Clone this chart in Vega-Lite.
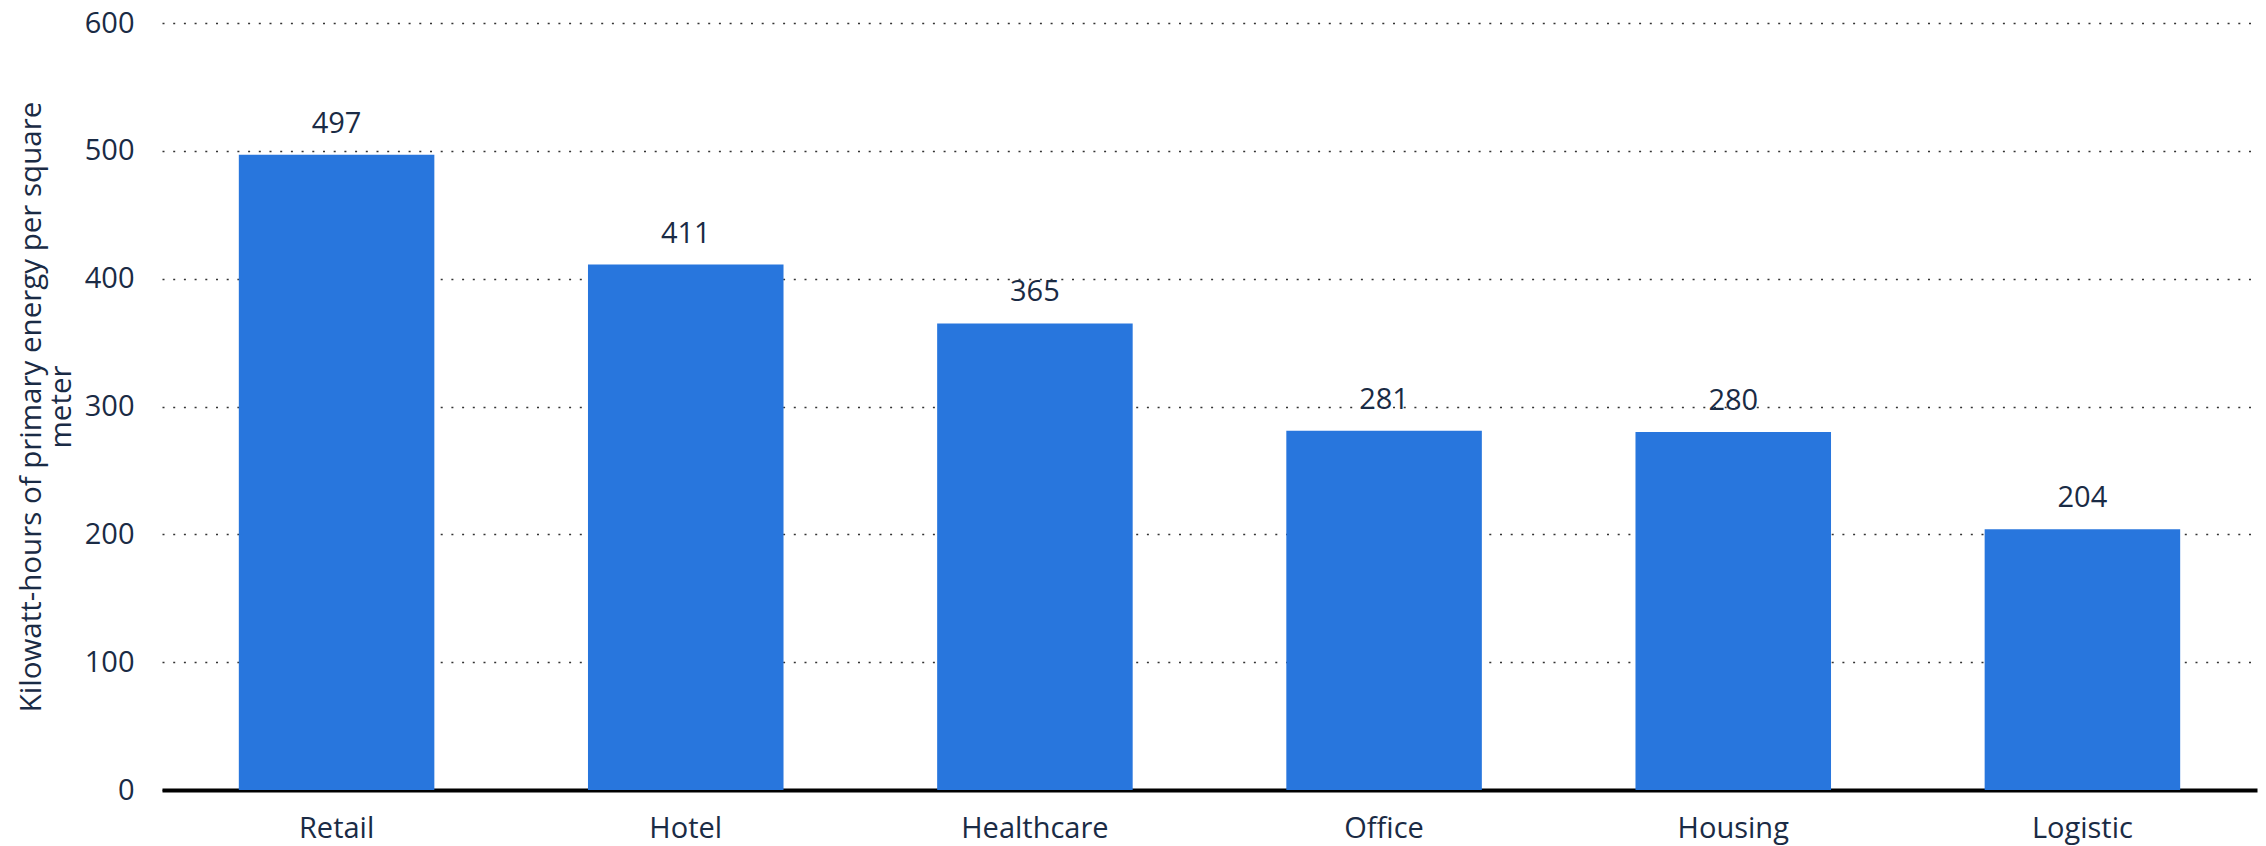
{
  "$schema": "https://vega.github.io/schema/vega-lite/v6.json",
  "autosize": {"type": "none"},
  "width": 2095,
  "height": 767,
  "padding": {"left": 162, "top": 23, "right": 9, "bottom": 56},
  "background": "white",
  "config": {
    "view": {"stroke": null},
    "font": "Open Sans"
  },
  "data": {
    "values": [
      {"category": "Retail", "value": 497},
      {"category": "Hotel", "value": 411},
      {"category": "Healthcare", "value": 365},
      {"category": "Office", "value": 281},
      {"category": "Housing", "value": 280},
      {"category": "Logistic", "value": 204}
    ]
  },
  "encoding": {
    "x": {
      "field": "category",
      "type": "nominal",
      "sort": null,
      "scale": {"paddingInner": 0.44, "paddingOuter": 0.22},
      "axis": {
        "title": null,
        "labelAngle": 0,
        "labelFont": "Open Sans",
        "labelFontSize": 29,
        "labelColor": "#1a2b45",
        "labelPadding": 24,
        "ticks": false,
        "domainColor": "#000000",
        "domainWidth": 4,
        "grid": false
      }
    },
    "y": {
      "field": "value",
      "type": "quantitative",
      "scale": {"domain": [0, 600]},
      "axis": {
        "values": [0, 100, 200, 300, 400, 500, 600],
        "title": ["Kilowatt-hours of primary energy per square", "meter"],
        "titleFont": "Open Sans",
        "titleFontSize": 29.5,
        "titleFontWeight": "normal",
        "titleColor": "#1a2b45",
        "titlePadding": 8,
        "titleLineHeight": 30,
        "labelFont": "Open Sans",
        "labelFontSize": 29,
        "labelColor": "#1a2b45",
        "labelPadding": 28,
        "ticks": false,
        "domain": false,
        "grid": true,
        "gridColor": "#333333",
        "gridWidth": 1.5,
        "gridDash": [2, 8.7]
      }
    }
  },
  "layer": [
    {
      "mark": {"type": "bar", "color": "#2876dd"}
    },
    {
      "mark": {
        "type": "text",
        "baseline": "bottom",
        "dy": -16,
        "font": "Open Sans",
        "fontSize": 29,
        "color": "#1a2b45"
      },
      "encoding": {"text": {"field": "value", "type": "quantitative"}}
    }
  ]
}
